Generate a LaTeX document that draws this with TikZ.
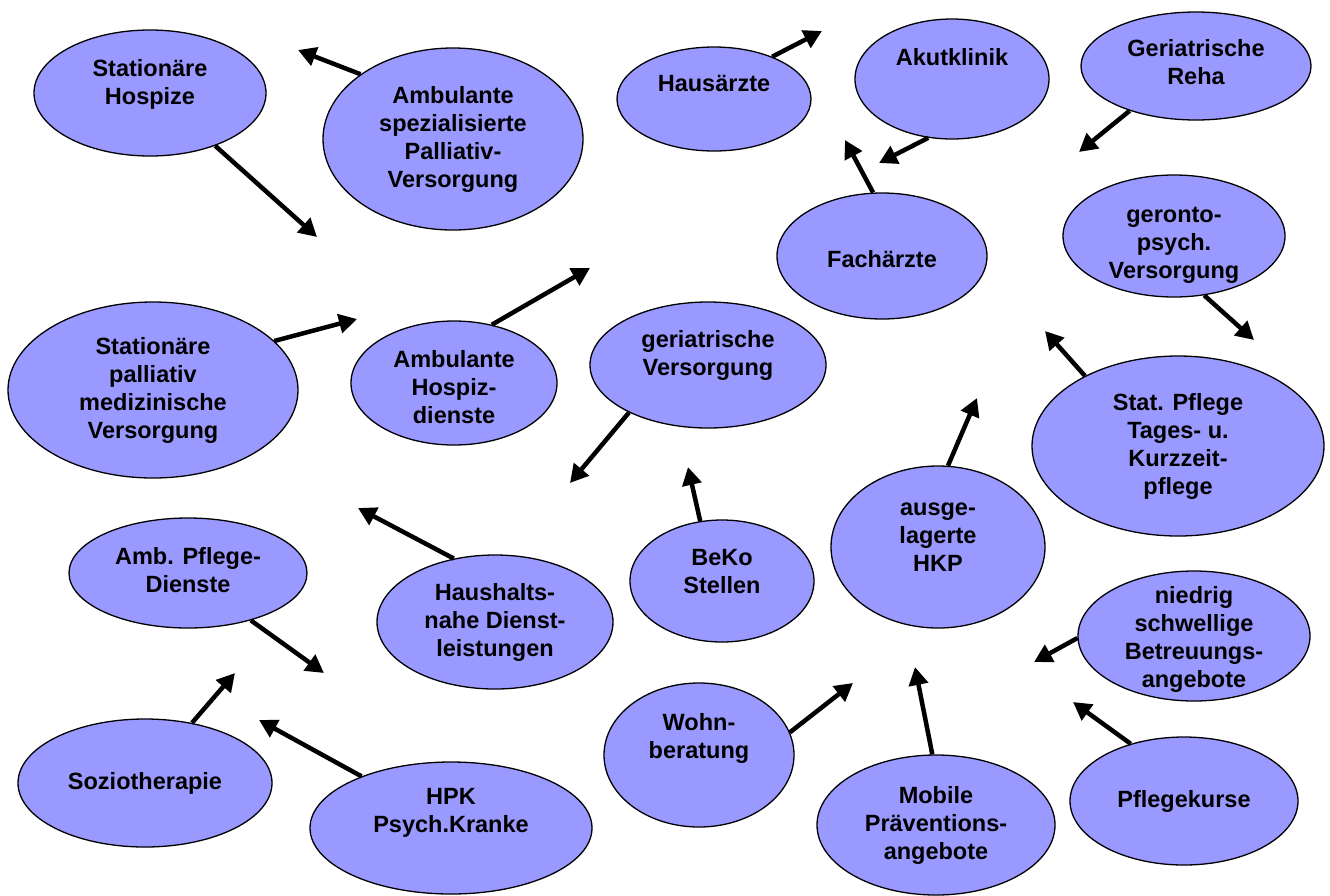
\documentclass[tikz,border=0pt]{standalone}
\usepackage{fontspec}
\setmainfont{Liberation Sans}
\usetikzlibrary{shapes.geometric,arrows.meta}
\definecolor{ellfill}{HTML}{9999FF}
\newcommand\lowtxt[1]{\rule[-#1pt]{0pt}{#1pt}}
\newcommand\hightxt[1]{\rule{0pt}{#1pt}}
\begin{document}
\begin{tikzpicture}[x=1pt,y=-1pt,
 ell/.style={ellipse, draw=black, line width=1.3pt, fill=ellfill, inner sep=-15pt, align=center,
   font=\fontsize{23.5}{28}\selectfont\bfseries},
 sz/.style 2 args={minimum width=#1pt, minimum height=#2pt},
 arr/.style={line width=4.5pt, -{Triangle[length=18pt,width=19pt]}}]
\useasboundingbox (0,0) rectangle (1330,895);

\node[ell,sz={232}{126}] (e1) at (150,93) {Stationäre\\Hospize\lowtxt{23}};
\node[ell,sz={260}{182}] (e2) at (453,139) {Ambulante\\spezialisierte\\Palliativ-\\Versorgung};
\node[ell,sz={194}{104}] (e3) at (714,99) {Hausärzte\lowtxt{32}};
\node[ell,sz={194}{120}] (e4) at (952,79) {Akutklinik\lowtxt{44}};
\node[ell,sz={230}{108}] (e5) at (1196,66) {Geriatrische\\Reha\lowtxt{9}};
\node[ell,sz={210}{126}] (e6) at (882,256) {\hightxt{23}Fachärzte};
\node[ell,sz={222}{122}] (e7) at (1174,236) {\hightxt{33}geronto-\\psych.\\Versorgung};
\node[ell,sz={290}{176}] (e8) at (153,390) {Stationäre\\palliativ\\medizinische\\Versorgung};
\node[ell,sz={206}{124}] (e9) at (454,383) {\hightxt{25}Ambulante\\Hospiz-\\dienste};
\node[ell,sz={236}{126}] (e10) at (708,365) {geriatrische\\Versorgung\lowtxt{25}};
\node[ell,sz={292}{180}] (e11) at (1178,446) {Stat. Pflege\\Tages- u.\\Kurzzeit-\\pflege};
\node[ell,sz={214}{162}] (e12) at (938,547) {ausge-\\lagerte\\HKP\lowtxt{20}};
\node[ell,sz={184}{122}] (e13) at (722,581) {BeKo\\Stellen\lowtxt{19}};
\node[ell,sz={238}{110}] (e14) at (188,573) {Amb. Pflege-\\Dienste\lowtxt{7}};
\node[ell,sz={236}{134}] (e15) at (495,622) {Haushalts-\\nahe Dienst-\\leistungen};
\node[ell,sz={232}{130}] (e16) at (1194,636) {\hightxt{23}niedrig\\schwellige\\Betreuungs-\\angebote};
\node[ell,sz={190}{144}] (e17) at (699,755) {Wohn-\\beratung\lowtxt{39}};
\node[ell,sz={254}{128}] (e18) at (145,783) {Soziotherapie};
\node[ell,sz={282}{132}] (e19) at (451,828) {HPK\\Psych.Kranke\lowtxt{36}};
\node[ell,sz={238}{140}] (e20) at (936,825) {Mobile\\Präventions-\\angebote};
\node[ell,sz={228}{128}] (e21) at (1184,801) {Pflegekurse};

\coordinate (c2) at (298,50);
\coordinate (c1) at (317,237);
\coordinate (c3) at (822,31);
\coordinate (c4) at (879,163);
\coordinate (c5) at (1079,152);
\coordinate (c6) at (845,140);
\coordinate (c7) at (1254,340);
\coordinate (c8) at (357,319);
\coordinate (c9) at (590,268);
\coordinate (c10) at (570,483);
\coordinate (c11) at (1045,331);
\coordinate (c12) at (977,398);
\coordinate (c13) at (688,467);
\coordinate (c15) at (358,508);
\coordinate (c14) at (324,673);
\coordinate (c16) at (1034,662);
\coordinate (c18) at (235,673);
\coordinate (c19) at (259,720);
\coordinate (c17) at (853,683);
\coordinate (c20) at (915,667);
\coordinate (c21) at (1073,702);

\draw[arr] (e2.145.5) -- (c2);
\draw[arr] (e1.-39) -- (c1);
\draw[arr] (e3.36) -- (c3);
\draw[arr] (e4.-112) -- (c4);
\draw[arr] (e5.-146) -- (c5);
\draw[arr] (e6.98) -- (c6);
\draw[arr] (e7.-63.5) -- (c7);
\draw[arr] (e8.22) -- (c8);
\draw[arr] (e9.57) -- (c9);
\draw[arr] (e10.-149) -- (c10);
\draw[arr] (e11.143) -- (c11);
\draw[arr] (e12.83) -- (c12);
\draw[arr] (e13.110) -- (c13);
\draw[arr] (e15.123) -- (c15);
\draw[arr] (e14.-37) -- (c14);
\draw[arr] (e16.-179) -- (c16);
\draw[arr] (e18.52) -- (c18);
\draw[arr] (e19.150) -- (c19);
\draw[arr] (e17.14) -- (c17);
\draw[arr] (e20.93) -- (c20);
\draw[arr] (e21.133) -- (c21);
\end{tikzpicture}
\end{document}
